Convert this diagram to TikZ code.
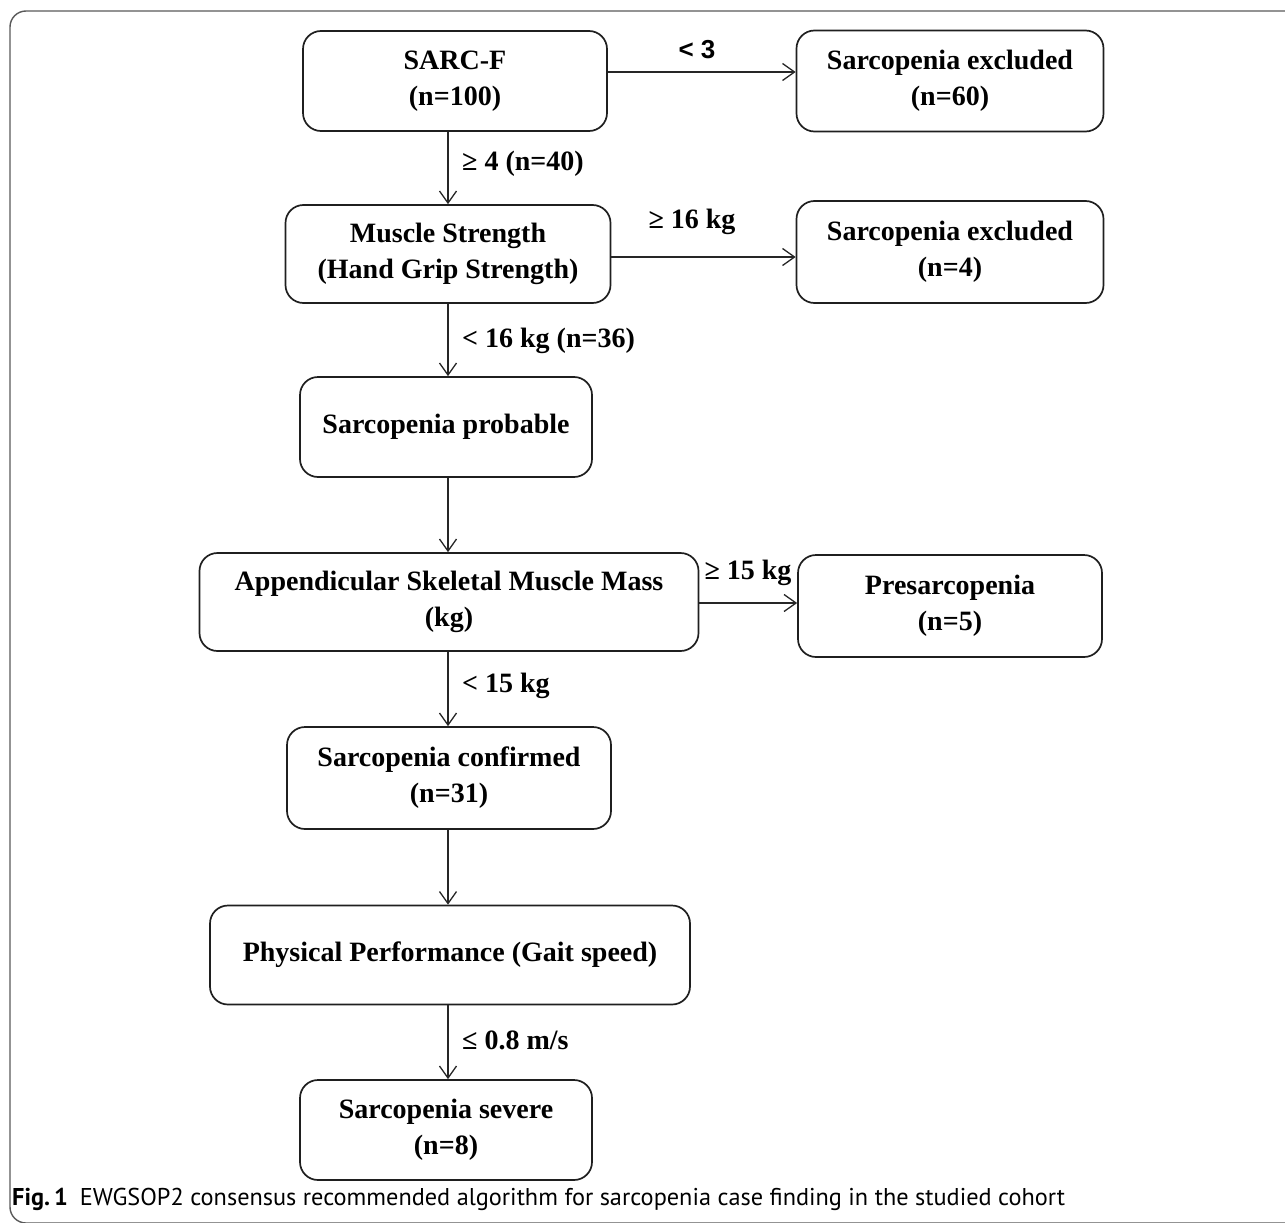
\documentclass[tikz,border=0pt]{standalone}
\usepackage{fontspec}
\setmainfont{Liberation Serif}
\newfontfamily\capfont{PT Sans}
\newfontfamily\ltsans{Liberation Sans}
\usetikzlibrary{arrows.meta}
\tikzset{
  box/.style={draw=black!88, line width=1.7pt, rounded corners=18pt, minimum height=100pt,
    inner sep=0pt, align=center, font=\fontsize{28}{36}\selectfont\bfseries},
  conn/.style={draw=black!85, line width=1.3pt, -{Straight Barb[length=12pt,width=17pt,line width=1.3pt]}},
  lbl/.style={font=\fontsize{28}{34}\selectfont\bfseries, inner sep=0pt},
  frame/.style={draw=black!65, line width=1.4pt, rounded corners=16pt}
}
\begin{document}
\begin{tikzpicture}[x=1pt,y=-1pt]
\useasboundingbox (0,0) rectangle (1285,1223);
\draw[frame] (1320,11) -- (10,11) -- (10,1223) -- (1320,1223);

\node[box, minimum width=304pt, minimum height=100pt] (sarc) at (455,81) {SARC-F\\(n=100)};
\node[box, minimum width=307pt, minimum height=101pt] (ex1) at (950,81) {Sarcopenia excluded\\(n=60)};
\node[box, minimum width=325pt, minimum height=98pt] (ms) at (448,254) {Muscle Strength\\(Hand Grip Strength)};
\node[box, minimum width=307pt, minimum height=102pt] (ex2) at (950,252) {Sarcopenia excluded\\(n=4)};
\node[box, minimum width=292pt, minimum height=100pt] (prob) at (446,427) {Sarcopenia probable};
\node[box, minimum width=499pt, minimum height=98pt] (asm) at (449,602) {Appendicular Skeletal Muscle Mass\\(kg)};
\node[box, minimum width=304pt, minimum height=102pt] (pre) at (950,606) {Presarcopenia\\(n=5)};
\node[box, minimum width=324pt, minimum height=102pt] (conf) at (449,778) {Sarcopenia confirmed\\(n=31)};
\node[box, minimum width=480pt, minimum height=99pt] (pp) at (450,955) {Physical Performance (Gait speed)};
\node[box, minimum width=292pt, minimum height=100pt] (sev) at (446,1130) {Sarcopenia severe\\(n=8)};

\coordinate (vx) at (448,0);
\draw[conn] (sarc.south -| vx) -- (ms.north -| vx);
\draw[conn] (ms.south -| vx) -- (prob.north -| vx);
\draw[conn] (prob.south -| vx) -- (asm.north -| vx);
\draw[conn] (asm.south -| vx) -- (conf.north -| vx);
\draw[conn] (conf.south -| vx) -- (pp.north -| vx);
\draw[conn] (pp.south -| vx) -- (sev.north -| vx);

\draw[conn] (sarc.east |- 0,72) -- (ex1.west |- 0,72);
\draw[conn] (ms.east |- 0,257) -- (ex2.west |- 0,257);
\draw[conn] (asm.east |- 0,603) -- (pre.west |- 0,603);

\node[font=\ltsans\fontsize{26}{30}\selectfont\bfseries, inner sep=0pt] (l1) at (697,50) {< 3};
\node[lbl, anchor=west] (l2) at (462,164) {≥ 4 (n=40)};
\node[lbl] (l3) at (692,222) {≥ 16 kg};
\node[lbl, anchor=west] (l4) at (462,341) {< 16 kg (n=36)};
\node[lbl] (l5) at (748,573) {≥ 15 kg};
\node[lbl, anchor=west] (l6) at (462,686) {< 15 kg};
\node[lbl, anchor=west] (l7) at (462,1040) {≤ 0.8 m/s};

\node[anchor=base west, inner sep=0pt, font=\capfont\fontsize{24.3}{28}\selectfont] (cap) at (12,1205)
  {\textbf{Fig.\,1}\hspace{12pt}EWGSOP2 consensus recommended algorithm for sarcopenia case finding in the studied cohort};
\end{tikzpicture}
\end{document}
